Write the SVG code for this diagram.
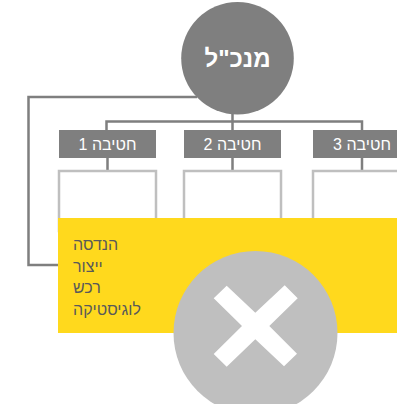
<svg xmlns="http://www.w3.org/2000/svg" width="397" height="404" viewBox="0 0 397 404">
<style>
text{font-family:"Liberation Sans",Arial,sans-serif;direction:rtl}
.con{fill:none;stroke:#7f7f7f;stroke-width:2.5}
.box{fill:#7f7f7f}
.lbl{fill:#fff;font-size:16px;text-anchor:middle}
.sub{fill:#fff;stroke:#bfbfbf;stroke-width:2.5}
.it{fill:#595959;font-size:16px;text-anchor:end}
</style>
<rect width="397" height="404" fill="#fff"/>
<g id="connectors">
<path class="con" d="M197 97H28.5V265H60"/>
<path class="con" d="M232.5 114V130M106.5 130V121.5H362V130M107.5 158V171M232.5 158V171M362 158V171"/>
</g>
<g id="ceo"><circle cx="237.5" cy="58.3" r="56.3" fill="#7f7f7f"/><text x="237.5" y="67" fill="#fff" font-size="24" font-weight="700" text-anchor="middle">מנכ"ל</text></g>
<g id="div1"><rect class="box" x="59" y="130" width="97" height="28"/><text class="lbl" x="107.5" y="150">חטיבה 1</text></g>
<g id="div2"><rect class="box" x="184" y="130" width="97" height="28"/><text class="lbl" x="232.5" y="150">חטיבה 2</text></g>
<g id="div3"><rect class="box" x="313" y="130" width="84" height="28"/><text class="lbl" x="362" y="150">חטיבה 3</text></g>
<g id="sub1"><rect class="sub" x="59" y="171" width="97" height="60"/></g>
<g id="sub2"><rect class="sub" x="184" y="171" width="97" height="60"/></g>
<g id="sub3"><rect class="sub" x="313" y="171" width="97" height="60"/></g>
<g id="panel"><rect x="58" y="218" width="339" height="115" fill="#ffd91d"/>
<text class="it" x="73" y="250">הנדסה</text>
<text class="it" x="73" y="272">ייצור</text>
<text class="it" x="73" y="293">רכש</text>
<text class="it" x="73" y="315">לוגיסטיקה</text></g>
<g id="cross"><circle cx="255.5" cy="333" r="82" fill="#bfbfbf"/>
<polygon fill="#fff" points="226.7,285.7 213.7,298.3 242,326 213.7,354 226.7,366.7 255.3,339.3 284,366.3 297,353.7 269.3,326 297.7,298.3 284.7,285.3 255.3,312.7"/></g>
</svg>
